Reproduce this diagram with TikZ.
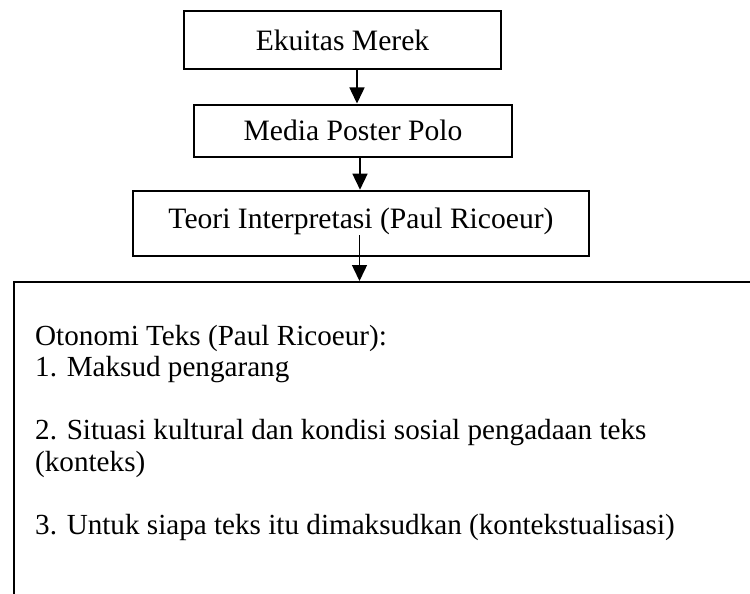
\documentclass[tikz,border=0pt]{standalone}
\usepackage{fontspec}
\setmainfont{Liberation Serif}
\usetikzlibrary{arrows.meta}
\tikzset{
  boxnode/.style={draw, line width=2pt, inner sep=0pt, align=center, font=\fontsize{29.6}{31.5}\selectfont},
  bigbox/.style={draw, line width=2pt, inner sep=0pt, minimum width=766pt, minimum height=338pt},
  linetext/.style={anchor=base west, inner sep=0pt, font=\fontsize{29.15}{31.5}\selectfont},
  arr/.style={line width=1.5pt, -{Triangle[length=16pt,width=15pt]}}
}
\begin{document}
\begin{tikzpicture}[x=1pt,y=-1pt]
\clip (0,0) rectangle (750,594);
\useasboundingbox (0,0) rectangle (750,594);
\fill[white] (0,0) rectangle (750,594);

\node[boxnode, minimum width=317pt, minimum height=58pt, text height=23pt, text depth=2pt] (b1) at (342.5,40) {Ekuitas Merek};
\node[boxnode, minimum width=318pt, minimum height=52.5pt, text height=21.4pt, text depth=2pt] (b2) at (353,130.75) {Media Poster Polo};
\node[boxnode, minimum width=456pt, minimum height=65pt, text height=20pt, text depth=8.6pt] (b3) at (361,223.2) {Teori Interpretasi (Paul Ricoeur)};
\node[bigbox] (big) at (397,451) {};

\node[linetext] (t0) at (35,345) {Otonomi Teks (Paul Ricoeur):};
\node[linetext] (t1) at (35,376.5) {1. Maksud pengarang};
\node[linetext] (t2) at (35,439.5) {2. Situasi kultural dan kondisi sosial pengadaan teks};
\node[linetext] (t3) at (35,471) {(konteks)};
\node[linetext] (t4) at (35,534) {3. Untuk siapa teks itu dimaksudkan (kontekstualisasi)};

\draw[arr] ([xshift=14.5pt]b1.south) -- ([xshift=4pt]b2.north);
\draw[arr] ([xshift=7pt]b2.south) -- ([xshift=-1pt]b3.north);
\draw[arr] ([xshift=-1.5pt,yshift=21.7pt]b3.south) -- ([xshift=-37.5pt]big.north);
\end{tikzpicture}
\end{document}
